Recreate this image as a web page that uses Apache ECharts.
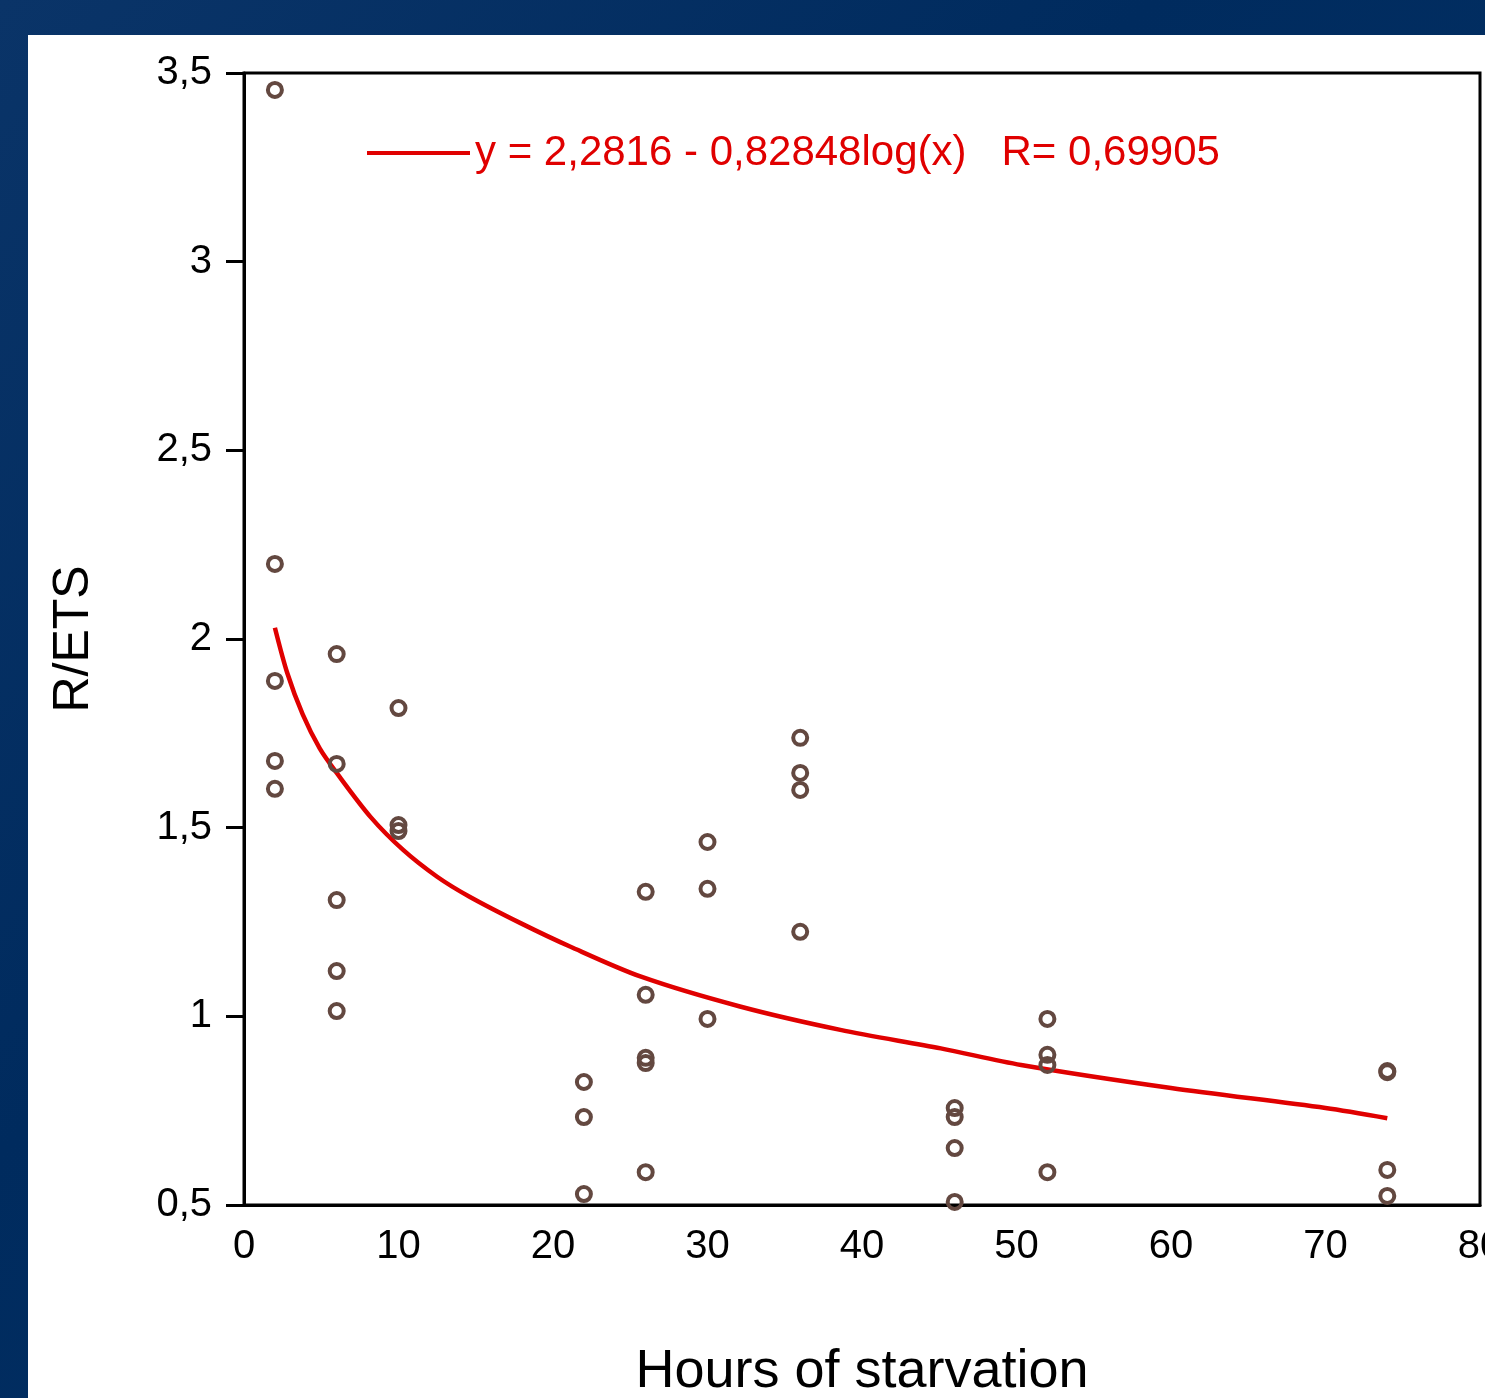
<!DOCTYPE html>
<html>
<head>
<meta charset="utf-8">
<script src="https://cdn.jsdelivr.net/npm/echarts@6/dist/echarts.min.js"></script>
<style>
  html, body { margin: 0; padding: 0; width: 1485px; height: 1398px; overflow: hidden; }
  body { background: linear-gradient(135deg, #0a3468 0%, #002b5e 40%, #07356a 100%); position: relative; }
  #panel { position: absolute; left: 28px; top: 35px; right: 0; bottom: 0; background: #ffffff; }
  #chart { position: absolute; left: 0; top: 0; width: 1485px; height: 1398px; }
</style>
</head>
<body>
<div id="panel"></div>
<div id="chart"></div>
<script>
// Observed data: hours of starvation (x) and R/ETS (y)
const hoursX = [2, 2, 2, 2, 2,
                6, 6, 6, 6, 6,
                10, 10, 10,
                22, 22, 22,
                26, 26, 26, 26, 26,
                30, 30, 30,
                36, 36, 36, 36,
                46, 46, 46, 46,
                52, 52, 52, 52,
                74, 74, 74, 74];
const retsY = [3.455, 2.199, 1.889, 1.677, 1.603,
               1.960, 1.669, 1.308, 1.120, 1.014,
               1.817, 1.507, 1.491,
               0.826, 0.733, 0.529,
               1.330, 1.057, 0.890, 0.876, 0.587,
               1.462, 1.338, 0.993,
               1.738, 1.645, 1.600, 1.224,
               0.757, 0.733, 0.651, 0.508,
               0.993, 0.898, 0.871, 0.587,
               0.855, 0.852, 0.593, 0.524];

// Fitted curve, points
const fitX = [2, 2.8, 3.8, 4.9, 6, 8.2, 10.3, 12.5, 14.6, 17.9, 21.1, 25.7, 32.1, 38.6, 45.1, 50.3, 60, 70, 74];
const fitY = [2.03, 1.91, 1.80, 1.71, 1.645, 1.528, 1.441, 1.37, 1.317, 1.247, 1.185, 1.105, 1.026, 0.964, 0.915, 0.871, 0.81, 0.757, 0.73];

const xTicks = [0, 10, 20, 30, 40, 50, 60, 70, 80];
const yTicks = [0.5, 1, 1.5, 2, 2.5, 3, 3.5];

const fitLabel = 'y = 2,2816 - 0,82848log(x)   R= 0,69905';
const xTitle = 'Hours of starvation';
const yTitle = 'R/ETS';

const scatterData = hoursX.map((x, i) => [x, retsY[i]]);
const fitData = fitX.map((x, i) => [x, fitY[i]]);

const chart = echarts.init(document.getElementById('chart'), null, { renderer: 'canvas' });
const font = 'Liberation Sans, Arial, sans-serif';

chart.setOption({
  backgroundColor: 'transparent',
  animation: false,
  textStyle: { fontFamily: font },
  grid: {
    left: 244, top: 73, right: 5, bottom: 193,
    containLabel: false,
    outerBoundsMode: 'none',
    show: true, borderColor: '#000', borderWidth: 3, backgroundColor: '#fff'
  },
  legend: {
    show: true,
    left: 362, top: 127,
    data: [{ name: fitLabel, icon: 'rect' }],
    itemWidth: 103, itemHeight: 4,
    textStyle: { color: '#e00000', fontSize: 42, fontFamily: font }
  },
  xAxis: {
    type: 'value',
    min: xTicks[0], max: xTicks[xTicks.length - 1], interval: 10,
    splitLine: { show: false },
    axisLine: { show: true, onZero: false, lineStyle: { color: '#000', width: 3 } },
    axisTick: { show: false },
    axisLabel: { color: '#000', fontSize: 40, margin: 22, fontFamily: font,
                 showMaxLabel: true, showMinLabel: true, hideOverlap: false },
    name: xTitle,
    nameLocation: 'middle',
    nameGap: 140,
    nameTextStyle: { color: '#000', fontSize: 54, fontFamily: font }
  },
  yAxis: {
    type: 'value',
    min: yTicks[0], max: yTicks[yTicks.length - 1], interval: 0.5,
    splitLine: { show: false },
    axisLine: { show: true, onZero: false, lineStyle: { color: '#000', width: 3 } },
    axisTick: { show: true, inside: false, length: 18, lineStyle: { color: '#000', width: 3 } },
    axisLabel: {
      color: '#000', fontSize: 40, margin: 32, fontFamily: font,
      formatter: v => String(v).replace('.', ',')
    },
    name: yTitle,
    nameLocation: 'middle',
    nameGap: 145,
    nameRotate: 90,
    nameTextStyle: { color: '#000', fontSize: 50, fontFamily: font }
  },
  series: [
    {
      name: 'data',
      type: 'scatter',
      data: scatterData,
      symbol: 'circle',
      symbolSize: 14,
      itemStyle: { color: 'rgba(255,255,255,0)', borderColor: '#634840', borderWidth: 4, opacity: 1 },
      z: 3
    },
    {
      name: fitLabel,
      type: 'line',
      data: fitData,
      smooth: 0.3,
      showSymbol: false,
      symbol: 'none',
      lineStyle: { color: '#e00000', width: 4.5 },
      itemStyle: { color: '#e00000' },
      z: 2
    }
  ]
});
</script>
</body>
</html>
